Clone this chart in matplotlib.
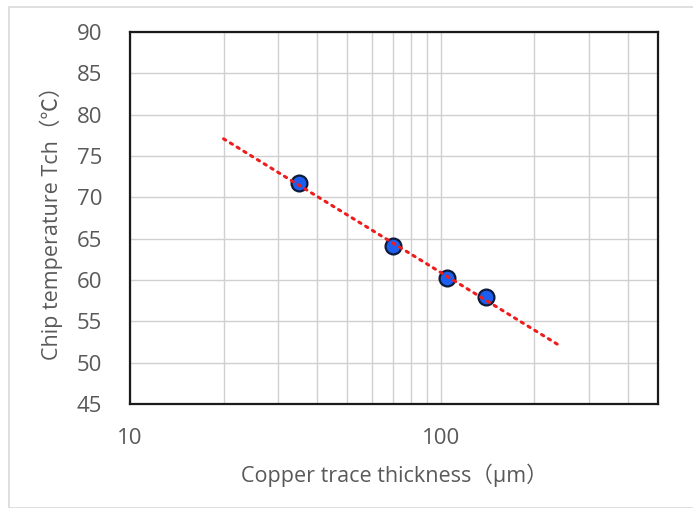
import numpy as np
import matplotlib.pyplot as plt
from matplotlib.ticker import FixedLocator, NullFormatter, FixedFormatter
from matplotlib.patches import Rectangle

plt.rcParams['font.family'] = ['Open Sans', 'Noto Sans CJK JP', 'DejaVu Sans']

# copper thickness (um) vs chip temperature (C)
thickness = [35, 70, 105, 140]
temp = [71.7, 64.1, 60.2, 57.9]

# trendline range (log fit)
trend_range = [20, 240]

xticks_major = [10, 100]
xgrid = [10, 20, 30, 40, 50, 60, 70, 80, 90, 100, 200, 300, 400, 500]
yticks = [45, 50, 55, 60, 65, 70, 75, 80, 85, 90]

fig = plt.figure(figsize=(6.93, 5.08), dpi=100)
# light chart-area border
fig.patches.append(Rectangle((9/693, 0), 1, 1 - 7/508, transform=fig.transFigure,
                             fill=False, edgecolor='#d9d9d9', lw=1.2))

ax = fig.add_axes([130/693, 1 - 404/508, 528/693, 372/508])
ax.set_xscale('log')
ax.set_xlim(10, 500)
ax.set_ylim(45, 90)

# gridlines
ax.xaxis.set_major_locator(FixedLocator(xticks_major))
ax.xaxis.set_major_formatter(FixedFormatter([str(v) for v in xticks_major]))
ax.xaxis.set_minor_locator(FixedLocator(xgrid))
ax.xaxis.set_minor_formatter(NullFormatter())
ax.set_yticks(yticks)
ax.grid(True, which='both', axis='x', color='#d0d0d0', lw=1)
ax.grid(True, which='major', axis='y', color='#d0d0d0', lw=1)
ax.set_axisbelow(True)

ax.tick_params(which='both', length=0)
ax.tick_params(axis='x', pad=17, labelsize=16, labelcolor='#595959')
ax.tick_params(axis='y', pad=20, labelsize=16, labelcolor='#595959')

for s in ax.spines.values():
    s.set_linewidth(1.6)
    s.set_color('#1a1a1a')

# log trendline
lx = np.log(thickness)
a, b = np.polyfit(lx, temp, 1)
tx = np.array(trend_range, dtype=float)
ax.scatter(thickness, temp, s=130, c='#1c5ef0', edgecolors='#0d1a3a',
           linewidths=1.6, zorder=3)
ax.plot(tx, a*np.log(tx) + b, ls=(0, (0.8, 1.8)), color='#ee1c1c', lw=2.2,
        dash_capstyle='round', zorder=4)

ax.set_xlabel('Copper trace thickness（µm）', fontsize=15.5, color='#595959', labelpad=11)
ax.set_ylabel('Chip temperature Tch（℃）', fontsize=15.5, color='#595959', labelpad=10)

fig.savefig('out.png', dpi=100)
